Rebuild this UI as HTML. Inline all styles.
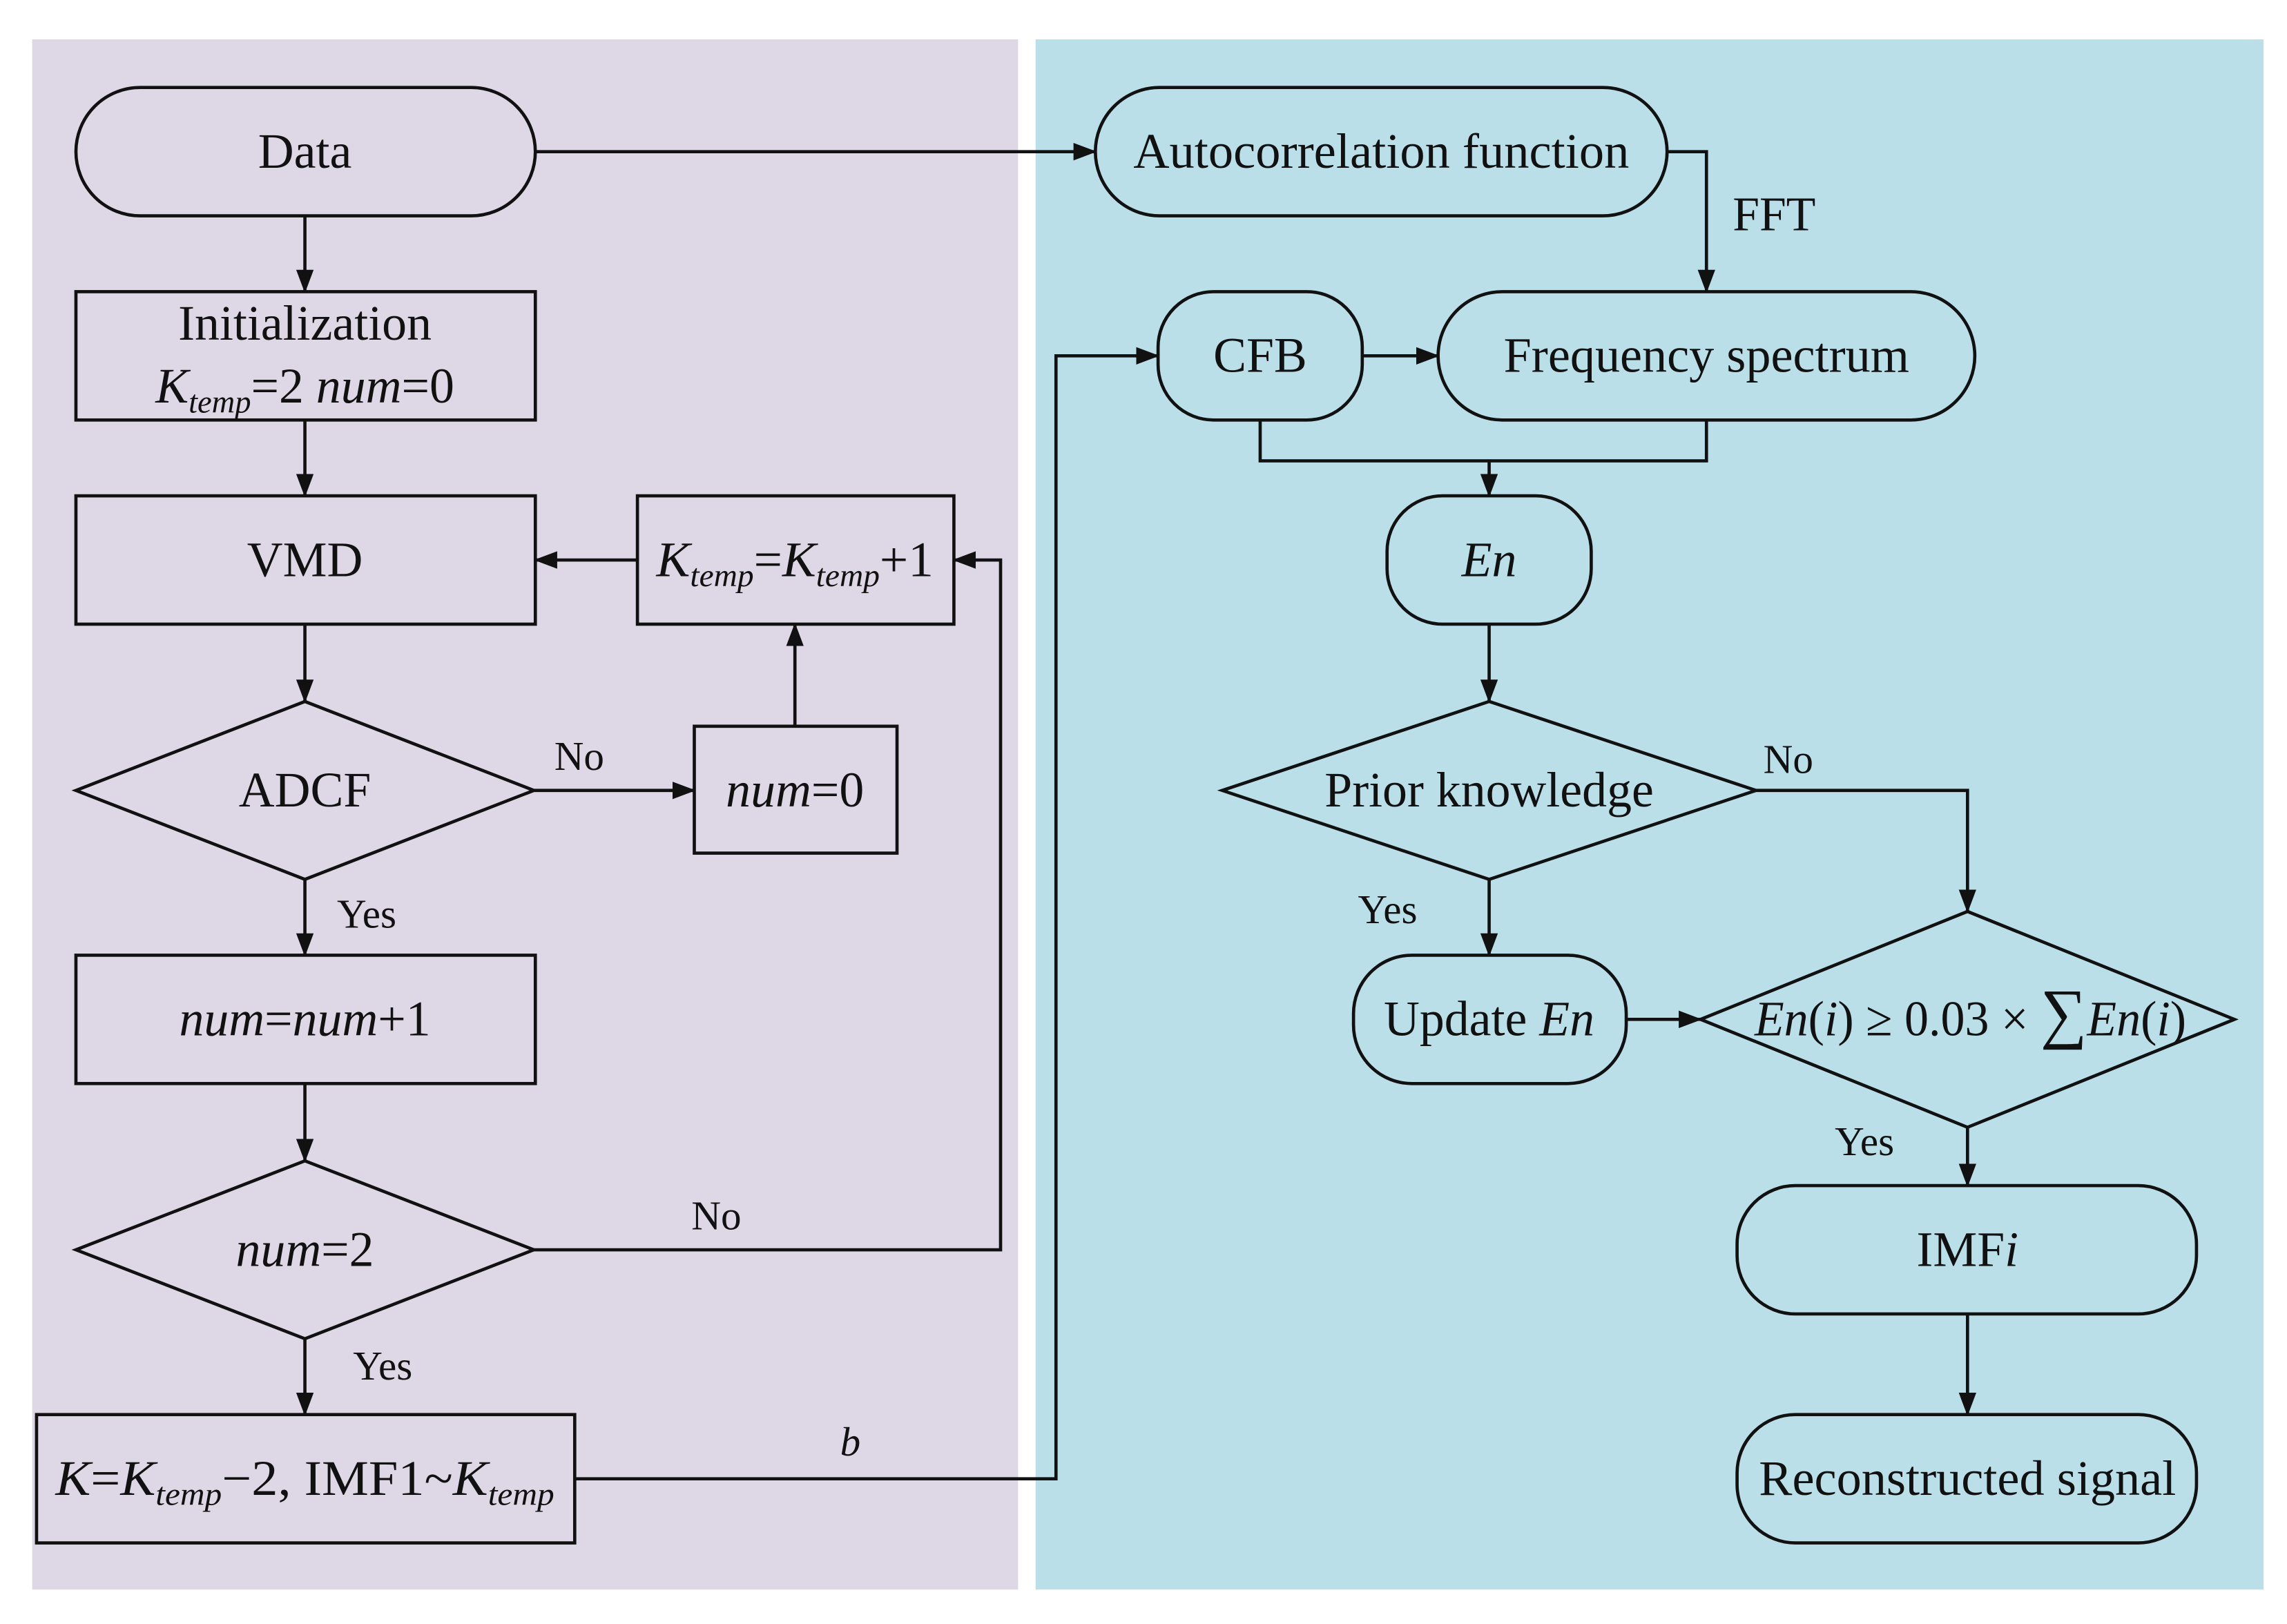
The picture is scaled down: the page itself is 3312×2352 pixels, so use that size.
<!DOCTYPE html>
<html><head><meta charset="utf-8"><style>html,body{margin:0;padding:0;background:#fff}svg{display:block}</style></head>
<body>
<svg width="3312" height="2352" viewBox="0 0 1568 1113.6" xmlns="http://www.w3.org/2000/svg" font-family="'Liberation Serif', serif" font-size="34" fill="#111">
<defs><marker id="a" markerWidth="16" markerHeight="12" refX="15" refY="6" orient="auto" markerUnits="userSpaceOnUse"><path d="M0,0 L16,6 L0,12 Z" fill="#111"/></marker></defs>
<rect width="1568" height="1113.6" fill="#fff"/>
<rect x="22" y="27" width="676" height="1063" fill="#ded8e6"/>
<rect x="710" y="27" width="842" height="1063" fill="#badfe9"/>
<g fill="none" stroke="#111" stroke-width="2.2">
<rect x="52" y="60" width="315" height="88" rx="44"/>
<rect x="52" y="200" width="315" height="88"/>
<rect x="52" y="340" width="315" height="88"/>
<rect x="437" y="340" width="217" height="88"/>
<polygon points="52,542 209,481 366,542 209,603"/>
<rect x="476" y="498" width="139" height="87"/>
<rect x="52" y="655" width="315" height="88"/>
<polygon points="52,857 209,796 366,857 209,918"/>
<rect x="25" y="970" width="369" height="88"/>
<rect x="751" y="60" width="392" height="88" rx="44"/>
<rect x="794" y="200" width="140" height="88" rx="38"/>
<rect x="986" y="200" width="368" height="88" rx="44"/>
<rect x="951" y="340" width="140" height="88" rx="38"/>
<polygon points="838,542 1021,481 1204,542 1021,603"/>
<rect x="928" y="655" width="187" height="88" rx="40"/>
<polygon points="1166,699 1349,625 1532,699 1349,773"/>
<rect x="1191" y="813" width="315" height="88" rx="40"/>
<rect x="1191" y="970" width="315" height="88" rx="40"/>
<g marker-end="url(#a)">
<line x1="209" y1="148" x2="209" y2="200"/>
<line x1="209" y1="288" x2="209" y2="340"/>
<line x1="209" y1="428" x2="209" y2="481"/>
<line x1="209" y1="603" x2="209" y2="655"/>
<line x1="209" y1="743" x2="209" y2="796"/>
<line x1="209" y1="918" x2="209" y2="970"/>
<line x1="366" y1="542" x2="476" y2="542"/>
<line x1="545" y1="498" x2="545" y2="428"/>
<line x1="437" y1="384" x2="367" y2="384"/>
<polyline points="366,857 686,857 686,384 654,384"/>
<polyline points="394,1014 724,1014 724,244 794,244"/>
<line x1="367" y1="104" x2="751" y2="104"/>
<polyline points="1143,104 1170,104 1170,200"/>
<line x1="934" y1="244" x2="986" y2="244"/>
<line x1="1021" y1="316" x2="1021" y2="340"/>
<line x1="1021" y1="428" x2="1021" y2="481"/>
<polyline points="1204,542 1349,542 1349,625"/>
<line x1="1021" y1="603" x2="1021" y2="655"/>
<line x1="1115" y1="699" x2="1166" y2="699"/>
<line x1="1349" y1="773" x2="1349" y2="813"/>
<line x1="1349" y1="901" x2="1349" y2="970"/>
</g>
<polyline points="864,288 864,316 1170,316 1170,288"/>
</g>
<g text-anchor="middle">
<text x="209" y="115">Data</text>
<text x="209" y="233">Initialization</text>
<text x="209" y="276"><tspan font-style="italic">K</tspan><tspan font-style="italic" font-size="22" dy="7">temp</tspan><tspan dy="-7">=2  </tspan><tspan font-style="italic">num</tspan>=0</text>
<text x="209" y="395">VMD</text>
<text x="545" y="395" textLength="190" lengthAdjust="spacingAndGlyphs"><tspan font-style="italic">K</tspan><tspan font-style="italic" font-size="22" dy="7">temp</tspan><tspan dy="-7">=</tspan><tspan font-style="italic">K</tspan><tspan font-style="italic" font-size="22" dy="7">temp</tspan><tspan dy="-7">+1</tspan></text>
<text x="209" y="553">ADCF</text>
<text x="545" y="553"><tspan font-style="italic">num</tspan>=0</text>
<text x="209" y="710"><tspan font-style="italic">num</tspan>=<tspan font-style="italic">num</tspan>+1</text>
<text x="209" y="868"><tspan font-style="italic">num</tspan>=2</text>
<text x="209" y="1025" textLength="342" lengthAdjust="spacingAndGlyphs"><tspan font-style="italic">K</tspan>=<tspan font-style="italic">K</tspan><tspan font-style="italic" font-size="22" dy="7">temp</tspan><tspan dy="-7">−2, IMF1~</tspan><tspan font-style="italic">K</tspan><tspan font-style="italic" font-size="22" dy="7">temp</tspan></text>
<text x="947" y="115" textLength="340" lengthAdjust="spacingAndGlyphs">Autocorrelation function</text>
<text x="864" y="255">CFB</text>
<text x="1170" y="255" textLength="278" lengthAdjust="spacingAndGlyphs">Frequency spectrum</text>
<text x="1021" y="395" font-style="italic">En</text>
<text x="1021" y="553">Prior knowledge</text>
<text x="1021" y="710">Update <tspan font-style="italic">En</tspan></text>
<text x="1351" y="710" textLength="296" lengthAdjust="spacingAndGlyphs"><tspan font-style="italic">En</tspan>(<tspan font-style="italic">i</tspan>) ≥ 0.03 × <tspan font-size="46">∑</tspan><tspan font-style="italic">En</tspan>(<tspan font-style="italic">i</tspan>)</text>
<text x="1349" y="868">IMF<tspan font-style="italic">i</tspan></text>
<text x="1349" y="1025" textLength="286" lengthAdjust="spacingAndGlyphs">Reconstructed signal</text>
</g>
<g font-size="28">
<text x="380" y="528">No</text>
<text x="231" y="636">Yes</text>
<text x="474" y="843">No</text>
<text x="242" y="946">Yes</text>
<text x="576" y="998" font-style="italic">b</text>
<text x="1188" y="158" font-size="33">FFT</text>
<text x="1209" y="530">No</text>
<text x="931" y="633">Yes</text>
<text x="1258" y="792">Yes</text>
</g>
</svg>
</body></html>
